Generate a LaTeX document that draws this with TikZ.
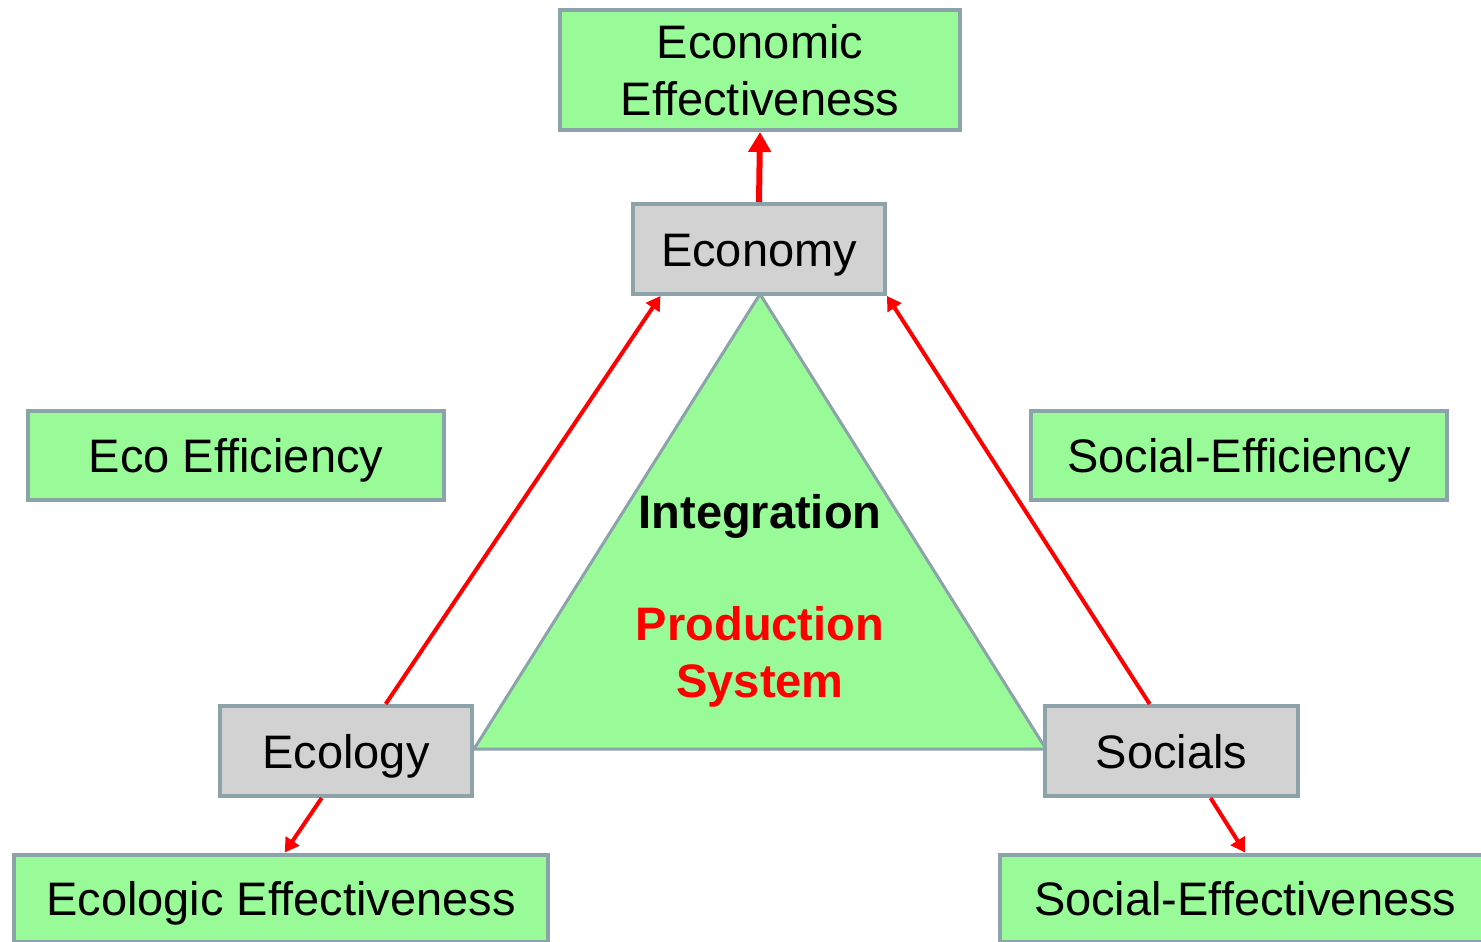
\documentclass[tikz,border=0pt]{standalone}
\usepackage{fontspec}
\setmainfont{Liberation Sans}
\usetikzlibrary{arrows.meta,calc}
\definecolor{boxgreen}{HTML}{98FB98}
\definecolor{boxgray}{HTML}{D2D2D2}
\definecolor{edge}{HTML}{8CA3AA}
\begin{document}
\begin{tikzpicture}[x=1pt,y=-1pt,
  base/.style={draw=edge,line width=4pt,inner sep=0pt,align=center,
    font=\fontsize{47}{57}\selectfont,text=black},
  oneline/.style={text height=34pt,text depth=0pt},
  greenbox/.style={base,fill=boxgreen},
  graybox/.style={base,fill=boxgray,oneline},
  link/.style={draw=red,line width=4pt,-{Triangle[width=16pt,length=14pt]}},
  biglink/.style={draw=red,line width=6pt,-{Triangle[width=22pt,length=20pt]}}]
\useasboundingbox (0,0) rectangle (1481,942);
% triangle
\coordinate (apex) at (760,294);
\coordinate (bl) at (474,749);
\coordinate (br) at (1046,749);
\draw[draw=edge,line width=3pt,fill=boxgreen,line join=miter] (apex) -- (bl) -- (br) -- cycle;
\node[font=\fontsize{47}{57}\bfseries\selectfont,text=black] (integ) at (760,516) {Integration};
\node[font=\fontsize{47}{57}\bfseries\selectfont,text=red,align=center] (prod) at (760,657) {Production\\System};
% boxes
\node[greenbox,minimum width=400pt,minimum height=120pt] (econeff) at (760,70) {Economic\\Effectiveness};
\node[graybox,minimum width=252pt,minimum height=90pt] (economy) at (759,249) {Economy};
\node[greenbox,oneline,minimum width=416pt,minimum height=89pt] (ecoeff) at (236,455.5) {Eco Efficiency};
\node[greenbox,oneline,minimum width=416pt,minimum height=89pt] (soceff) at (1239,455.5) {Social-Efficiency};
\node[graybox,minimum width=252pt,minimum height=90pt] (ecology) at (346,751) {Ecology};
\node[graybox,minimum width=253pt,minimum height=90pt] (socials) at (1171.5,751) {Socials};
\node[greenbox,oneline,minimum width=534pt,minimum height=87pt] (ecologeff) at (281,898) {Ecologic Effectiveness};
\node[greenbox,oneline,minimum width=490pt,minimum height=87pt,text width=470pt,align=left] (socialeff) at (1245,898) {\hspace*{24pt}Social-Effectiveness};
% arrows
\draw[biglink] (economy.north) -- (econeff.south);
\draw[link] ($(ecology.north west)!0.655!(ecology.north east)$) -- ($(economy.south west)!0.115!(economy.south east)$);
\draw[link] ($(socials.north west)!0.415!(socials.north east)$) -- (economy.south east);
\draw[link] ($(ecology.south west)!0.405!(ecology.south east)$) -- ($(ecologeff.north west)!0.507!(ecologeff.north east)$);
\draw[link] ($(socials.south west)!0.652!(socials.south east)$) -- (socialeff.north);
\end{tikzpicture}
\end{document}
